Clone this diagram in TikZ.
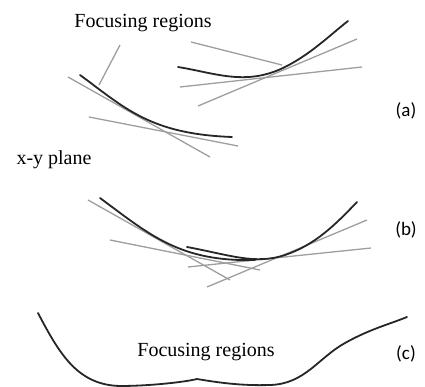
\documentclass[tikz,border=0pt]{standalone}
\usepackage{fontspec}
\setmainfont{Liberation Serif}
\newfontfamily\lblfont{Carlito}
\begin{document}
\begin{tikzpicture}[x=1pt,y=-1pt,
  curve/.style={draw=black!85,line width=1.8pt,line cap=round},
  ray/.style={draw=black!38,line width=1.3pt},
  txt/.style={font=\fontsize{20}{22}\selectfont,inner sep=0pt},
  tag/.style={font=\lblfont\fontsize{19}{21}\selectfont,inner sep=0pt}]
\useasboundingbox (0,0) rectangle (425,387);
% (a)
\draw[ray] (68,77) -- (210,157);
\draw[ray] (89,117) -- (238,146);
\draw[ray] (120,45) -- (99,85);
\draw[ray] (191,42) -- (282,65);
\draw[ray] (180,87) -- (362,67);
\draw[ray] (198,106) -- (357,39);
\draw[curve] (80,75) .. controls (125,108) and (150,134) .. (232,137);
\draw[curve] (178,67) .. controls (215,73) and (245,86) .. (283,68)
  .. controls (310,55) and (330,35) .. (348,21);
\node[txt] (fr1) at (143,23) {Focusing regions};
\node[tag] (a) at (406,111) {(a)};
% (b)
\node[txt] (xy) at (54,160) {x-y plane};
\draw[ray] (88,200) -- (230,280);
\draw[ray] (110,240) -- (260,270);
\draw[ray] (188,267) -- (371,248);
\draw[ray] (207,287) -- (367,220);
\draw[curve] (100,198) .. controls (150,235) and (180,262) .. (255,260);
\draw[curve] (187,247) .. controls (230,255) and (255,265) .. (285,255)
  .. controls (315,245) and (335,225) .. (357,202);
\node[tag] (b) at (406,230) {(b)};
% (c)
\draw[curve] (38,313) .. controls (60,355) and (78,385) .. (120,386)
  .. controls (150,386) and (185,382) .. (197,379)
  .. controls (215,382) and (240,386) .. (270,385)
  .. controls (305,384) and (318,358) .. (345,343)
  .. controls (370,329) and (390,324) .. (407,317);
\node[txt] (fr2) at (206,352) {Focusing regions};
\node[tag] (c) at (406,354) {(c)};
\end{tikzpicture}
\end{document}
